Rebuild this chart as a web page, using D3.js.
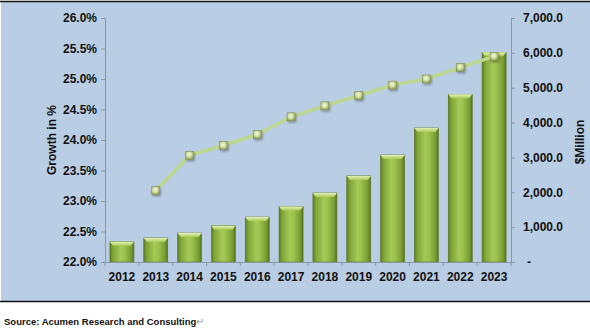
<!DOCTYPE html>
<html><head><meta charset="utf-8">
<script src="https://cdn.jsdelivr.net/npm/d3@7/dist/d3.min.js"></script>
<style>body{margin:0;background:#fff}svg{display:block}</style>
</head><body><svg id="c" width="590" height="328"></svg>
<script>
const years = ["2012","2013","2014","2015","2016","2017","2018","2019","2020","2021","2022","2023"];
const marketValues = [580, 690, 830, 1040, 1290, 1590, 1980, 2470, 3070, 3845, 4810, 6015];
const growthYears = ["2013","2014","2015","2016","2017","2018","2019","2020","2021","2022","2023"];
const growthValues = [23.17, 23.75, 23.91, 24.09, 24.38, 24.56, 24.73, 24.90, 25.00, 25.19, 25.37];
const leftTicks = [22.0, 22.5, 23.0, 23.5, 24.0, 24.5, 25.0, 25.5, 26.0];
const rightTicks = [0, 1000, 2000, 3000, 4000, 5000, 6000, 7000];

const svg = d3.select("#c");
const font = "'Liberation Sans', Arial, sans-serif";
const L = 105, R = 511, T = 18, B = 262;

const defs = svg.append("defs");
const bg = defs.append("linearGradient").attr("id","barG").attr("x1","0").attr("x2","1").attr("y1","0").attr("y2","0");
[[0,"#5d7a22"],[0.12,"#7fa336"],[0.45,"#a6c957"],[0.6,"#9dc24e"],[0.88,"#799c32"],[1,"#55711e"]].forEach(s=>bg.append("stop").attr("offset",s[0]).attr("stop-color",s[1]));
const tg = defs.append("linearGradient").attr("id","topG").attr("x1","0").attr("x2","0").attr("y1","0").attr("y2","1");
[[0,"#e4f2b4"],[1,"#a8cb5a"]].forEach(s=>tg.append("stop").attr("offset",s[0]).attr("stop-color",s[1]));
const mg = defs.append("radialGradient").attr("id","mkG").attr("cx","0.45").attr("cy","0.4").attr("r","0.65");
[[0,"#f4f8e2"],[0.45,"#d6e2a8"],[1,"#8a9a52"]].forEach(s=>mg.append("stop").attr("offset",s[0]).attr("stop-color",s[1]));
const sh = defs.append("filter").attr("id","sh").attr("x","-50%").attr("y","-50%").attr("width","200%").attr("height","200%");
sh.append("feDropShadow").attr("dx",1).attr("dy",1.5).attr("stdDeviation",1).attr("flood-color","#000").attr("flood-opacity",0.35);

// background
svg.append("rect").attr("x",1).attr("y",2).attr("width",589).attr("height",299).attr("fill","#b9cde4");
svg.append("line").attr("x1",0).attr("x2",590).attr("y1",1.5).attr("y2",1.5).attr("stroke","#111").attr("stroke-width",1.5);
svg.append("line").attr("x1",0).attr("x2",590).attr("y1",301.5).attr("y2",301.5).attr("stroke","#111").attr("stroke-width",1.5);

const x = d3.scaleBand().domain(years).range([L,R]).paddingInner(0.29).paddingOuter(0.145);
const xb = d3.scaleBand().domain(years).range([L,R]);
const yL = d3.scaleLinear().domain([22,26]).range([B,T]);
const yR = d3.scaleLinear().domain([0,7000]).range([B,T]);

// bars
const bars = svg.append("g");
years.forEach((yr,i)=>{
  const v = marketValues[i];
  const bx = x(yr), bw = x.bandwidth(), by = yR(v);
  bars.append("rect").attr("x",bx).attr("y",by).attr("width",bw).attr("height",B-by).attr("fill","url(#barG)").attr("stroke","#5b7520").attr("stroke-width",0.6);
  bars.append("path").attr("d",`M${bx},${by}L${bx+bw},${by}L${bx+bw-3},${by+4}L${bx+3},${by+4}Z`).attr("fill","url(#topG)");
});

// axes
const gL = svg.append("g").attr("transform",`translate(${L},0)`).call(d3.axisLeft(yL).tickValues(leftTicks).tickSize(4).tickPadding(4).tickFormat(d=>d.toFixed(1)+"%"));
const gR = svg.append("g").attr("transform",`translate(${R},0)`).call(d3.axisRight(yR).tickValues(rightTicks).tickSize(4).tickPadding(8).tickFormat(d=>d===0?"-":d3.format(",.1f")(d)));
const gX = svg.append("g").attr("transform",`translate(0,${B})`).call(d3.axisBottom(xb).tickSize(0).tickPadding(10));
// x ticks at band boundaries
const bounds = years.map(y=>xb(y)).concat([R]);
svg.append("g").selectAll("line").data(bounds).join("line").attr("x1",d=>d).attr("x2",d=>d).attr("y1",B).attr("y2",B+4).attr("stroke","#8a96a6");
[gL,gR,gX].forEach(g=>{
  g.selectAll(".domain").attr("stroke","#8a96a6");
  g.selectAll(".tick line").attr("stroke","#8a96a6");
  g.selectAll("text").attr("font-family",font).attr("font-weight","bold").attr("font-size",12).attr("fill","#111");
});
gR.selectAll("text").attr("dx",d=>d===0?"4":"0");

// line
const cx = d=>xb(d)+xb.bandwidth()/2;
const line = d3.line().x((d,i)=>cx(growthYears[i])).y(d=>yL(d));
svg.append("path").datum(growthValues).attr("d",line).attr("fill","none").attr("stroke","#bcd88f").attr("stroke-width",3.5).attr("stroke-linejoin","round");
svg.append("g").selectAll("rect").data(growthValues).join("rect")
  .attr("x",(d,i)=>cx(growthYears[i])-4).attr("y",d=>yL(d)-4).attr("width",8).attr("height",8)
  .attr("fill","url(#mkG)").attr("stroke","#7d8c48").attr("stroke-width",0.5).attr("filter","url(#sh)");

// titles
svg.append("text").attr("transform",`translate(56,140) rotate(-90)`).attr("text-anchor","middle")
  .attr("font-family",font).attr("font-weight","bold").attr("font-size",12).attr("fill","#111").text("Growth in %");
svg.append("text").attr("transform",`translate(584,142) rotate(-90)`).attr("text-anchor","middle")
  .attr("font-family",font).attr("font-weight","bold").attr("font-size",12).attr("fill","#111").text("$Million");

// source
const src = svg.append("text").attr("x",4).attr("y",325).attr("font-family",font).attr("font-weight","bold").attr("font-size",9.5).attr("fill","#111");
src.append("tspan").text("Source: Acumen Research and Consulting");
src.append("tspan").attr("fill","#999").attr("font-weight","normal").text("↵");
</script></body></html>
